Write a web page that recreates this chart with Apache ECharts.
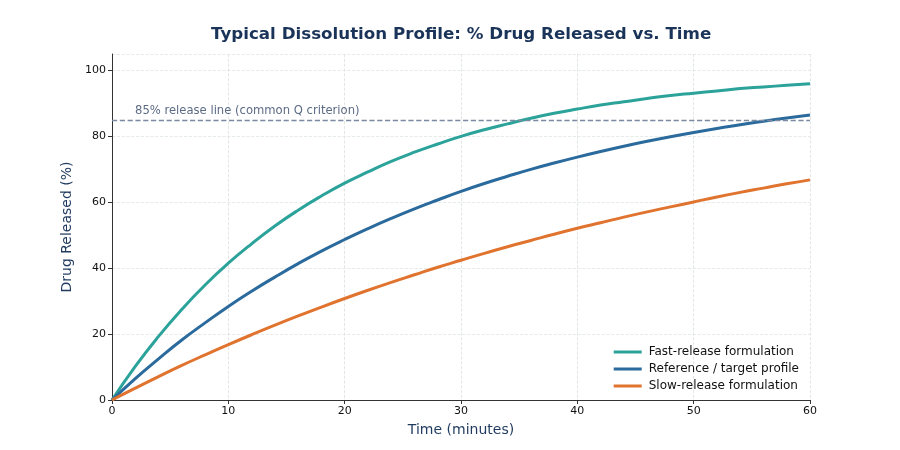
<!DOCTYPE html>
<html>
<head>
<meta charset="utf-8">
<script src="https://cdn.jsdelivr.net/npm/echarts@6/dist/echarts.min.js"></script>
<style>
    html, body { margin: 0; padding: 0; background: #fff; }
    #chartsdiv { width: 900px; height: 450px; }
</style>
</head>
<body>
<div id="chartsdiv"></div>
<script>
// 时间（分钟）
var times = [0, 2, 4, 6, 8, 10, 12, 14, 16, 18, 20, 22, 24, 26, 28, 30,
    32, 34, 36, 38, 40, 42, 44, 46, 48, 50, 52, 54, 56, 58, 60];
// 快速释放
var fastRelease = [0, 10.2, 19.3, 27.5, 34.9, 41.5, 47.4, 52.8, 57.6, 61.9, 65.8, 69.2, 72.4, 75.2, 77.7, 80.0,
    82.0, 83.8, 85.5, 87.0, 88.3, 89.5, 90.5, 91.5, 92.4, 93.1, 93.8, 94.5, 95.0, 95.5, 96.0];
// 参考 / 目标
var referenceProfile = [0, 6.5, 12.5, 18.2, 23.4, 28.4, 33.0, 37.3, 41.4, 45.2, 48.7, 52.0, 55.1, 58.0, 60.7, 63.3,
    65.7, 67.9, 70.0, 71.9, 73.7, 75.4, 77.0, 78.5, 79.9, 81.2, 82.4, 83.5, 84.6, 85.6, 86.5];
// 缓慢释放
var slowRelease = [0, 3.6, 7.1, 10.5, 13.7, 16.8, 19.8, 22.7, 25.5, 28.2, 30.8, 33.3, 35.7, 38.0, 40.3, 42.4,
    44.5, 46.5, 48.4, 50.3, 52.1, 53.8, 55.5, 57.1, 58.6, 60.1, 61.6, 63.0, 64.3, 65.6, 66.8];
var seriesNames = ['Fast-release formulation', 'Reference / target profile', 'Slow-release formulation'];
var qLine = 85;

function pairs(ys) {
    var out = [];
    for (var i = 0; i < times.length; i++) {
        out.push([times[i], ys[i]]);
    }
    return out;
}

var myChart = echarts.init(document.getElementById('chartsdiv'));
var font = 'DejaVu Sans';
var option = {
    animation: false,
    textStyle: { fontFamily: font },
    title: {
        text: 'Typical Dissolution Profile: % Drug Released vs. Time',
        left: 206,
        top: 21,
        textStyle: { fontSize: 16.7, fontWeight: 'bold', color: '#1a3358', fontFamily: font }
    },
    legend: {
        data: seriesNames,
        orient: 'vertical',
        right: 96,
        top: 341,
        itemWidth: 28,
        itemHeight: 3,
        itemGap: 5,
        icon: 'rect',
        textStyle: { fontSize: 12, color: '#111', fontFamily: font, padding: [0, 0, 0, 2] }
    },
    grid: { left: 112, right: 90, top: 54, bottom: 50 },
    xAxis: {
        type: 'value',
        min: 0, max: 60, interval: 10,
        name: 'Time (minutes)',
        nameLocation: 'middle',
        nameGap: 23,
        nameTextStyle: { fontSize: 14, color: '#1f3a5f', fontFamily: font },
        axisLine: { lineStyle: { color: '#333', width: 1 } },
        axisTick: { lineStyle: { color: '#333' }, length: 4 },
        axisLabel: { color: '#111', fontSize: 11, margin: 6 },
        splitLine: { show: true, lineStyle: { color: '#dde0e0', type: 'dashed', width: 0.8 } }
    },
    yAxis: {
        type: 'value',
        min: 0, max: 105, interval: 20,
        name: 'Drug Released (%)',
        nameLocation: 'middle',
        nameGap: 34,
        nameTextStyle: { fontSize: 14, color: '#1f3a5f', fontFamily: font },
        axisLine: { show: true, lineStyle: { color: '#333', width: 1 } },
        axisTick: { show: true, lineStyle: { color: '#333' }, length: 4 },
        axisLabel: { color: '#111', fontSize: 11, margin: 6, showMaxLabel: false },
        splitLine: { show: true, lineStyle: { color: '#dde6e3', type: 'dashed', width: 0.8 } }
    },
    series: [
        {
            name: seriesNames[0],
            type: 'line',
            smooth: true,
            showSymbol: false,
            data: pairs(fastRelease),
            lineStyle: { width: 3, color: '#2ca39a' },
            itemStyle: { color: '#2ca39a' },
            markLine: {
                silent: true,
                symbol: 'none',
                lineStyle: { color: '#7b8aa0', type: 'dashed', width: 1.3 },
                label: {
                    show: true,
                    position: 'insideStartTop',
                    formatter: '85% release line (common Q criterion)',
                    color: '#5c6b85',
                    fontSize: 11.6,
                    fontFamily: font,
                    distance: [23, 3]
                },
                data: [{ yAxis: qLine }]
            }
        },
        {
            name: seriesNames[1],
            type: 'line',
            smooth: true,
            showSymbol: false,
            data: pairs(referenceProfile),
            lineStyle: { width: 3, color: '#2a6a9c' },
            itemStyle: { color: '#2a6a9c' }
        },
        {
            name: seriesNames[2],
            type: 'line',
            smooth: true,
            showSymbol: false,
            data: pairs(slowRelease),
            lineStyle: { width: 3, color: '#e0732e' },
            itemStyle: { color: '#e0732e' }
        }
    ]
};
myChart.setOption(option);
</script>
</body>
</html>
